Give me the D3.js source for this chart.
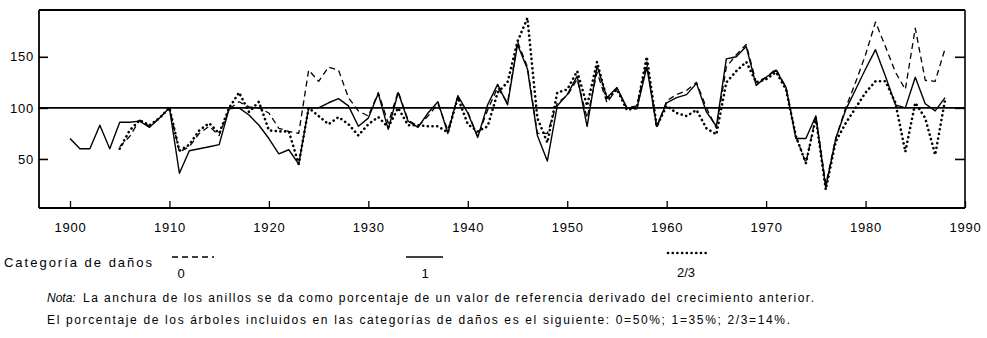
<!DOCTYPE html>
<html>
<head>
<meta charset="utf-8">
<script src="https://cdn.jsdelivr.net/npm/d3@7"></script>
<style>
  html, body { margin: 0; padding: 0; background: #fff; }
  svg { display: block; font-family: "Liberation Sans", Arial, sans-serif; }
</style>
</head>
<body>
<svg id="chart" width="987" height="338"></svg>
<script>
// ---------- data ----------
const years = d3.range(1900, 1989);
const xTickValues = [1900, 1910, 1920, 1930, 1940, 1950, 1960, 1970, 1980, 1990];
const yTickValues = [50, 100, 150];
const referenceValue = 100;

// Category 1 (solid)
const cat1 = [
  70, 60, 60, 83, 60, 86, 86, 87, 81, 90,
  100, 36, 58, 60, 62, 64, 99, 100, 93, 83,
  70, 55, 59, 45, 100, 100, 105, 109, 102, 82,
  90, 114, 79, 115, 87, 81, 95, 106, 75, 112,
  95, 71, 103, 123, 103, 162, 138, 73, 48, 102,
  113, 131, 82, 141, 110, 120, 100, 99, 140, 82,
  105, 110, 113, 124, 96, 82, 148, 150, 160, 122,
  130, 137, 120, 70, 70, 92, 22, 70, 98, 118,
  138, 157, 131, 103, 100, 130, 104, 97, 110
];
// Category 2/3 (dotted)
const cat23 = [
  null, null, null, null, null, 60, 78, 88, 83, 90,
  100, 58, 64, 78, 85, 75, 100, 115, 96, 106,
  78, 77, 77, 45, 100, 92, 84, 91, 84, 73,
  84, 91, 81, 100, 83, 83, 82, 82, 76, 110,
  84, 77, 82, 115, 125, 165, 188, 90, 66, 115,
  118, 136, 102, 145, 108, 118, 98, 100, 150, 82,
  102, 95, 92, 98, 80, 74, 125, 136, 145, 125,
  128, 135, 118, 72, 46, 90, 20, 67, 85, 100,
  115, 126, 126, 105, 57, 105, 90, 54, 108
];
// Category 0 (dashed)
const cat0 = [
  null, null, null, null, null, 62, 72, 88, 82, 90,
  100, 57, 62, 75, 82, 73, 99, 106, 101, 100,
  95, 80, 77, 75, 137, 126, 140, 137, 110, 97,
  92, 115, 85, 116, 88, 82, 92, 104, 78, 110,
  96, 72, 98, 120, 105, 165, 140, 75, 75, 105,
  112, 128, 90, 135, 105, 119, 100, 102, 145, 80,
  107, 113, 117, 125, 100, 80, 140, 152, 162, 125,
  130, 138, 120, 72, 46, 92, 25, 70, 100, 125,
  152, 184, 160, 135, 118, 178, 127, 126, 158
];

const legendTitle = "Categoría de daños";
const legendLabels = ["0", "1", "2/3"];
const noteLabel = "Nota:";
const noteLine1 = "La anchura de los anillos se da como porcentaje de un valor de referencia derivado del crecimiento anterior.";
const noteLine2 = "El porcentaje de los árboles incluidos en las categorías de daños es el siguiente: 0=50%; 1=35%; 2/3=14%.";

// ---------- layout ----------
const svg = d3.select("#chart");
const frame = { left: 39, right: 965, top: 10, bottom: 208 };

const x = d3.scaleLinear().domain([1900, 1990]).range([70, 965]);
const y = d3.scaleLinear().domain([2, 195.8]).range([frame.bottom, frame.top]);

const styles = {
  solid: { width: 1.4, dash: null, cap: "butt" },
  dashed: { width: 1.3, dash: "6,4", cap: "butt" },
  dotted: { width: 2.6, dash: "0.1,4.6", cap: "round" }
};

// frame
const g = svg.append("g");
g.append("line").attr("x1", frame.left).attr("x2", frame.right).attr("y1", frame.top).attr("y2", frame.top)
  .attr("stroke", "#000").attr("stroke-width", 2.2);
g.append("line").attr("x1", frame.left).attr("x2", frame.right).attr("y1", frame.bottom).attr("y2", frame.bottom)
  .attr("stroke", "#000").attr("stroke-width", 2);
g.append("line").attr("x1", frame.left).attr("x2", frame.left).attr("y1", frame.top).attr("y2", frame.bottom)
  .attr("stroke", "#000").attr("stroke-width", 1.8);
g.append("line").attr("x1", frame.right).attr("x2", frame.right).attr("y1", frame.top).attr("y2", frame.bottom)
  .attr("stroke", "#000").attr("stroke-width", 1.6);

// axes
const xAxis = d3.axisBottom(x).tickValues(xTickValues).tickFormat(d3.format("d"))
  .tickSizeInner(-7).tickSizeOuter(0).tickPadding(15);
const gx = g.append("g").attr("transform", `translate(0,${frame.bottom})`).call(xAxis);
gx.select(".domain").remove();
gx.selectAll(".tick line").attr("stroke", "#000").attr("stroke-width", 1.3);
gx.selectAll(".tick text").attr("fill", "#000").attr("font-size", 13).attr("letter-spacing", 0.8)
  .attr("font-family", "'Liberation Sans', Arial, sans-serif");

const yAxis = d3.axisLeft(y).tickValues(yTickValues).tickFormat(d3.format("d"))
  .tickSizeInner(-9).tickSizeOuter(0).tickPadding(5);
const gy = g.append("g").attr("transform", `translate(${frame.left},0)`).call(yAxis);
gy.select(".domain").remove();
gy.selectAll(".tick line").attr("stroke", "#000").attr("stroke-width", 1.6);
gy.selectAll(".tick text").attr("fill", "#000").attr("font-size", 13).attr("letter-spacing", 0.8)
  .attr("font-family", "'Liberation Sans', Arial, sans-serif");

const yAxisR = d3.axisRight(y).tickValues(yTickValues).tickFormat("")
  .tickSizeInner(-10).tickSizeOuter(0);
const gyr = g.append("g").attr("transform", `translate(${frame.right},0)`).call(yAxisR);
gyr.select(".domain").remove();
gyr.selectAll(".tick line").attr("stroke", "#000").attr("stroke-width", 1.6);

// reference line at 100
g.append("line")
  .attr("x1", frame.left).attr("x2", frame.right)
  .attr("y1", y(referenceValue)).attr("y2", y(referenceValue))
  .attr("stroke", "#000").attr("stroke-width", 1.7);

// series
const series = [
  { name: "0", values: cat0, style: styles.dashed },
  { name: "1", values: cat1, style: styles.solid },
  { name: "2/3", values: cat23, style: styles.dotted }
];

const line = d3.line()
  .defined(d => d.v !== null)
  .x(d => x(d.year))
  .y(d => y(d.v));

series.forEach(s => {
  const pts = years.map((yr, i) => ({ year: yr, v: s.values[i] }));
  g.append("path")
    .datum(pts)
    .attr("fill", "none")
    .attr("stroke", "#000")
    .attr("stroke-width", s.style.width)
    .attr("stroke-linecap", s.style.cap)
    .attr("stroke-linejoin", "round")
    .attr("stroke-dasharray", s.style.dash)
    .attr("d", line);
});

// legend
const txt = "'Liberation Sans', Arial, sans-serif";
svg.append("text").attr("x", 4).attr("y", 267).attr("font-size", 13)
  .attr("font-family", txt).attr("textLength", 148).attr("lengthAdjust", "spacing")
  .text(legendTitle);

const legendItems = [
  { label: legendLabels[0], style: styles.dashed, x1: 172, x2: 214, ly: 257, tx: 181, ty: 278 },
  { label: legendLabels[1], style: styles.solid, x1: 406, x2: 443, ly: 257, tx: 425, ty: 278 },
  { label: legendLabels[2], style: styles.dotted, x1: 668, x2: 710, ly: 253, tx: 686, ty: 277 }
];
legendItems.forEach(it => {
  svg.append("line").attr("x1", it.x1).attr("x2", it.x2).attr("y1", it.ly).attr("y2", it.ly)
    .attr("stroke", "#000").attr("stroke-width", it.style.width)
    .attr("stroke-dasharray", it.style.dash).attr("stroke-linecap", it.style.cap);
  svg.append("text").attr("x", it.tx).attr("y", it.ty).attr("font-size", 13)
    .attr("font-family", txt).attr("text-anchor", "middle").text(it.label);
});

// notes
svg.append("text").attr("x", 47).attr("y", 302).attr("font-size", 12)
  .attr("font-family", txt).attr("font-style", "italic").text(noteLabel);
svg.append("text").attr("x", 83).attr("y", 302).attr("font-size", 12)
  .attr("font-family", txt).attr("textLength", 731).attr("lengthAdjust", "spacing").text(noteLine1);
svg.append("text").attr("x", 47).attr("y", 324).attr("font-size", 12)
  .attr("font-family", txt).attr("textLength", 743).attr("lengthAdjust", "spacing").text(noteLine2);
</script>
</body>
</html>
